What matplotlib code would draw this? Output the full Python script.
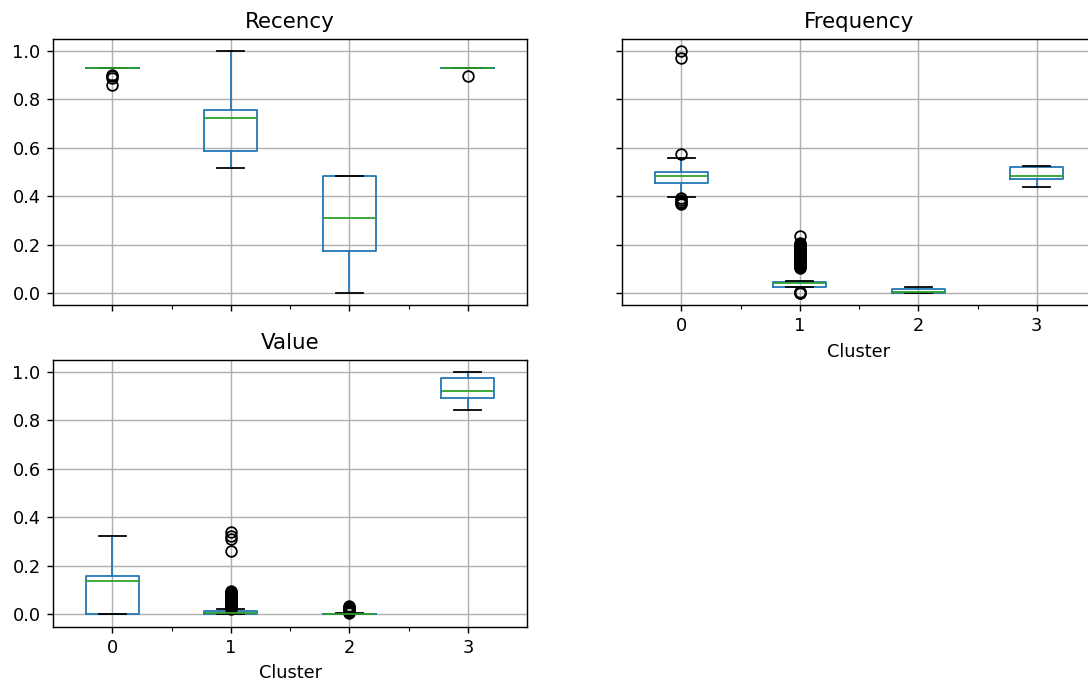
import matplotlib
matplotlib.use("Agg")
import matplotlib.pyplot as plt

clusters = ["0", "1", "2", "3"]

# Box statistics: (whislo, q1, med, q3, whishi)
recency_stats = [
    (0.930, 0.930, 0.930, 0.930, 0.930),
    (0.518, 0.588, 0.725, 0.758, 1.000),
    (0.000, 0.175, 0.310, 0.484, 0.484),
    (0.930, 0.930, 0.930, 0.930, 0.930),
]
recency_fliers = [
    [0.900, 0.895, 0.890, 0.860],
    [],
    [],
    [0.897],
]

frequency_stats = [
    (0.397, 0.456, 0.485, 0.499, 0.559),
    (0.026, 0.026, 0.043, 0.047, 0.050),
    (0.000, 0.000, 0.002, 0.018, 0.026),
    (0.440, 0.473, 0.482, 0.519, 0.526),
]
frequency_fliers = [
    [1.000, 0.972, 0.573, 0.392, 0.385, 0.378, 0.372, 0.368],
    [0.237, 0.207, 0.203, 0.200, 0.197, 0.194, 0.191, 0.188, 0.185, 0.182,
     0.179, 0.176, 0.173, 0.170, 0.167, 0.164, 0.161, 0.158, 0.155, 0.152,
     0.149, 0.146, 0.143, 0.140, 0.137, 0.134, 0.131, 0.128, 0.125, 0.122,
     0.119, 0.116, 0.113, 0.110, 0.107, 0.104,
     0.004, 0.002, 0.001, 0.000],
    [],
    [],
]

value_stats = [
    (0.000, 0.000, 0.136, 0.160, 0.322),
    (0.000, 0.003, 0.006, 0.013, 0.022),
    (0.000, 0.000, 0.001, 0.003, 0.005),
    (0.840, 0.892, 0.920, 0.972, 1.000),
]
value_fliers = [
    [],
    [0.339, 0.322, 0.310, 0.262,
     0.095, 0.092, 0.089, 0.086, 0.083, 0.080, 0.077, 0.074, 0.071, 0.068,
     0.065, 0.062, 0.059, 0.056, 0.053, 0.050, 0.047, 0.044, 0.041, 0.038,
     0.035, 0.032, 0.029, 0.026, 0.024],
    [0.034, 0.030, 0.026, 0.022, 0.018, 0.014, 0.010, 0.007],
    [],
]

titles = ["Recency", "Frequency", "Value"]

W, H = 1088, 684
DPI = 128
fig = plt.figure(figsize=(W / DPI, H / DPI), dpi=DPI)


def rect(left, top, width, height):
    return [left / W, (H - top - height) / H, width / W, height / H]


ax_r = fig.add_axes(rect(53, 39, 474, 266))
ax_f = fig.add_axes(rect(622, 39, 474, 266), sharey=ax_r)
ax_v = fig.add_axes(rect(53, 359.5, 474, 267), sharex=ax_r)

box_color = "#1f77b4"
med_color = "#2ca02c"


def draw(ax, stats, fliers, title):
    st = []
    for (lo, q1, med, q3, hi), fl in zip(stats, fliers):
        st.append(dict(whislo=lo, q1=q1, med=med, q3=q3, whishi=hi, fliers=fl))
    pos = list(range(1, len(st) + 1))
    ax.bxp(st, positions=pos, widths=0.45,
           boxprops=dict(color=box_color),
           whiskerprops=dict(color=box_color),
           capprops=dict(color="black"),
           medianprops=dict(color=med_color),
           flierprops=dict(marker="o", markerfacecolor="none",
                           markeredgecolor="black"))
    ax.set_xlim(0.5, 4.5)
    ax.set_xticks(pos)
    ax.set_xticks([1.5, 2.5, 3.5], minor=True)
    ax.set_xticklabels(clusters)
    ax.set_ylim(-0.05, 1.05)
    ax.set_yticks([0.0, 0.2, 0.4, 0.6, 0.8, 1.0])
    ax.grid(True, color="#b0b0b0", linewidth=0.8)
    ax.set_axisbelow(True)
    ax.set_title(title, fontsize=12)


draw(ax_r, recency_stats, recency_fliers, titles[0])
draw(ax_f, frequency_stats, frequency_fliers, titles[1])
draw(ax_v, value_stats, value_fliers, titles[2])

ax_r.tick_params(labelbottom=False)
ax_f.tick_params(labelleft=False)
ax_f.set_xlabel("Cluster")
ax_v.set_xlabel("Cluster")

fig.savefig("out.png", dpi=DPI)
